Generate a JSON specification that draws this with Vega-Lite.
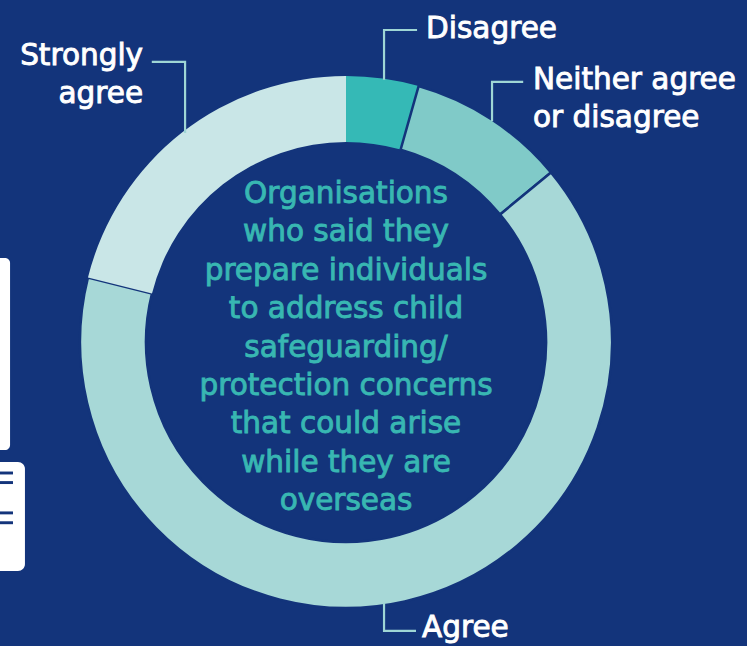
{
  "$schema": "https://vega.github.io/schema/vega-lite/v6.json",
  "width": 747,
  "height": 646,
  "autosize": {"type": "fit", "contains": "padding"},
  "padding": 0,
  "background": "#13347b",
  "config": {"view": {"stroke": null}},
  "encoding": {
    "x": {"type": "quantitative", "scale": {"domain": [-1.3008, 1.5075], "nice": false, "zero": false}, "axis": null},
    "y": {"type": "quantitative", "scale": {"domain": [-1.1429, 1.2857], "nice": false, "zero": false}, "axis": null}
  },
  "layer": [
    {
      "data": {"values": [
        {"box": "a", "x0": -1.3008, "x1": -1.263, "y0": 0.316, "y1": -0.406},
        {"box": "b", "x0": -1.3008, "x1": -1.207, "y0": -0.451, "y1": -0.861}
      ]},
      "mark": {"type": "rect", "color": "#ffffff", "cornerRadiusTopRight": 7, "cornerRadiusBottomRight": 7},
      "encoding": {
        "x": {"field": "x0"}, "x2": {"field": "x1"},
        "y": {"field": "y0"}, "y2": {"field": "y1"}
      }
    },
    {
      "data": {"values": [
        {"x0": -1.3008, "x1": -1.252, "y0": -0.487, "y1": -0.498},
        {"x0": -1.3008, "x1": -1.252, "y0": -0.523, "y1": -0.534},
        {"x0": -1.3008, "x1": -1.252, "y0": -0.637, "y1": -0.648},
        {"x0": -1.3008, "x1": -1.252, "y0": -0.674, "y1": -0.685}
      ]},
      "mark": {"type": "rect", "color": "#13347b"},
      "encoding": {
        "x": {"field": "x0"}, "x2": {"field": "x1"},
        "y": {"field": "y0"}, "y2": {"field": "y1"}
      }
    },
    {
      "data": {"values": [
        {"cat": "Disagree", "value": 4.4, "ord": 1, "cx": 0, "cy": 0},
        {"cat": "Neither agree or disagree", "value": 9.6, "ord": 2, "cx": 0, "cy": 0},
        {"cat": "Agree", "value": 64.9, "ord": 3, "cx": 0, "cy": 0},
        {"cat": "Strongly agree", "value": 21.1, "ord": 4, "cx": 0, "cy": 0}
      ]},
      "mark": {"type": "arc", "innerRadius": 200, "outerRadius": 266, "strokeWidth": 2.5},
      "encoding": {
        "x": {"field": "cx"},
        "y": {"field": "cy"},
        "theta": {"field": "value", "type": "quantitative", "stack": true},
        "order": {"field": "ord", "type": "quantitative"},
        "color": {
          "field": "cat", "type": "nominal", "legend": null,
          "scale": {
            "domain": ["Disagree", "Neither agree or disagree", "Agree", "Strongly agree"],
            "range": ["#35b9b6", "#80cac8", "#a7d8d7", "#c9e6e7"]
          }
        },
        "stroke": {
          "condition": {"test": "datum.cat === 'Neither agree or disagree' || datum.cat === 'Agree'", "value": "#13347b"},
          "value": "transparent"
        }
      }
    },
    {
      "data": {"values": [
        {"seg": "Disagree", "p": 1, "x": 0.143, "y": 0.99},
        {"seg": "Disagree", "p": 2, "x": 0.143, "y": 1.173},
        {"seg": "Disagree", "p": 3, "x": 0.263, "y": 1.173},
        {"seg": "Neither", "p": 1, "x": 0.549, "y": 0.834},
        {"seg": "Neither", "p": 2, "x": 0.549, "y": 0.978},
        {"seg": "Neither", "p": 3, "x": 0.662, "y": 0.978},
        {"seg": "Strongly", "p": 1, "x": -0.605, "y": 0.79},
        {"seg": "Strongly", "p": 2, "x": -0.605, "y": 1.053},
        {"seg": "Strongly", "p": 3, "x": -0.726, "y": 1.053},
        {"seg": "Agree", "p": 1, "x": 0.143, "y": -0.985},
        {"seg": "Agree", "p": 2, "x": 0.143, "y": -1.086},
        {"seg": "Agree", "p": 3, "x": 0.259, "y": -1.086}
      ]},
      "mark": {"type": "line", "color": "#9fd6d5", "strokeWidth": 2.2, "strokeCap": "square"},
      "encoding": {
        "x": {"field": "x"},
        "y": {"field": "y"},
        "detail": {"field": "seg"},
        "order": {"field": "p"}
      }
    },
    {
      "data": {"values": [
        {"t": "Disagree", "x": 0.301, "y": 1.143},
        {"t": "Neither agree", "x": 0.703, "y": 0.951},
        {"t": "or disagree", "x": 0.703, "y": 0.808},
        {"t": "Agree", "x": 0.286, "y": -1.109}
      ]},
      "mark": {"type": "text", "align": "left", "baseline": "alphabetic", "font": "DejaVu Sans", "fontSize": 29.5, "color": "#ffffff", "stroke": "#ffffff", "strokeWidth": 0.9},
      "encoding": {"x": {"field": "x"}, "y": {"field": "y"}, "text": {"field": "t"}}
    },
    {
      "data": {"values": [
        {"t": "Strongly", "x": -0.763, "y": 1.041},
        {"t": "agree", "x": -0.763, "y": 0.898}
      ]},
      "mark": {"type": "text", "align": "right", "baseline": "alphabetic", "font": "DejaVu Sans", "fontSize": 29.5, "color": "#ffffff", "stroke": "#ffffff", "strokeWidth": 0.9},
      "encoding": {"x": {"field": "x"}, "y": {"field": "y"}, "text": {"field": "t"}}
    },
    {
      "data": {"values": [
        {"t": "Organisations", "x": 0, "y": 0.523},
        {"t": "who said they", "x": 0, "y": 0.378},
        {"t": "prepare individuals", "x": 0, "y": 0.233},
        {"t": "to address child", "x": 0, "y": 0.090},
        {"t": "safeguarding/", "x": 0, "y": -0.056},
        {"t": "protection concerns", "x": 0, "y": -0.199},
        {"t": "that could arise", "x": 0, "y": -0.342},
        {"t": "while they are", "x": 0, "y": -0.489},
        {"t": "overseas", "x": 0, "y": -0.632}
      ]},
      "mark": {"type": "text", "align": "center", "baseline": "alphabetic", "font": "DejaVu Sans", "fontSize": 29.5, "color": "#38b7b2", "stroke": "#38b7b2", "strokeWidth": 0.9},
      "encoding": {"x": {"field": "x"}, "y": {"field": "y"}, "text": {"field": "t"}}
    }
  ]
}
